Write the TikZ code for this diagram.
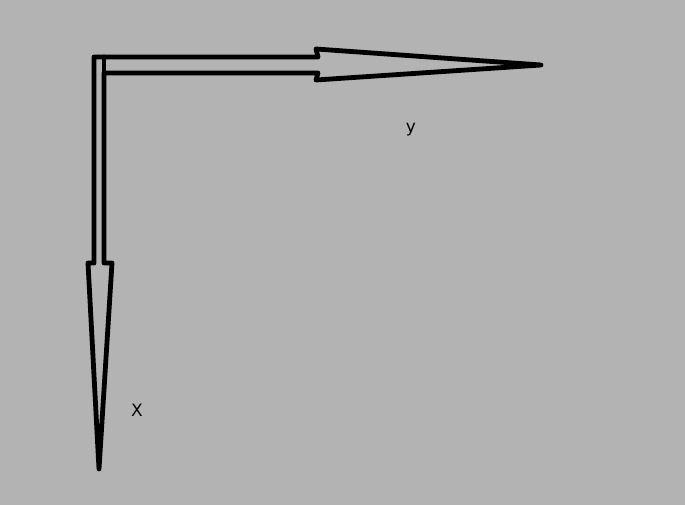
\documentclass[tikz,border=0pt]{standalone}
\usepackage{fontspec}
\setmainfont{DejaVu Sans}
\usetikzlibrary{positioning}
\definecolor{BG}{HTML}{B3B3B3}

\tikzset{
  outline/.style={draw=black, line width=4.8pt, line join=round, line cap=round},
  axislabel/.style={inner sep=0pt, font=\fontsize{17}{17}\selectfont}
}

\begin{document}
\begin{tikzpicture}[x=1pt, y=-1pt]
    % background and page size
    \fill[BG] (0,0) rectangle (685,505);
    \useasboundingbox (0,0) rectangle (685,505);

    % horizontal arrow (y) and vertical arrow (X), drawn as one outline
    \draw[outline]
      (94,57) -- (318,57) -- (316,49) -- (541,65) -- (316,80) -- (318,73)
      -- (104,73) -- (104,263) -- (112,263) -- (99,469) -- (88,263)
      -- (94,263) -- cycle;
    \draw[outline] (104,57) -- (104,73);

    % labels
    \node[axislabel] (ylabel) at (411,130) {y};
    \node[axislabel] (xlabel) at (137,410) {X};
\end{tikzpicture}
\end{document}
